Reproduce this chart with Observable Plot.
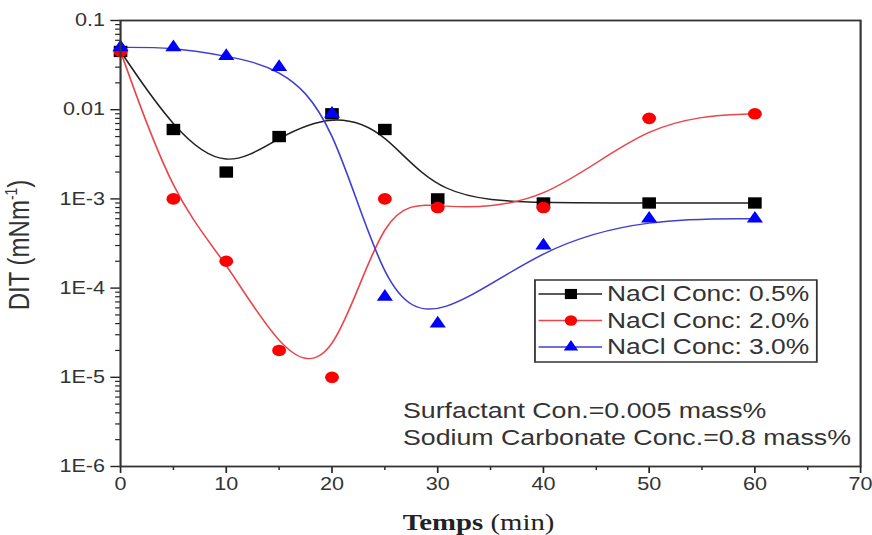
<!DOCTYPE html>
<html><head><meta charset="utf-8">
<script src="https://cdn.jsdelivr.net/npm/d3@7"></script>
<script src="https://cdn.jsdelivr.net/npm/@observablehq/plot@0.6"></script>
<style>body{margin:0;background:#fff;overflow:hidden}</style>
</head><body><div id="chart"></div>
<script>
// ---- data ----
const times = [0, 5, 10, 15, 20, 25, 30, 40, 50, 60];
const seriesNames = ["NaCl Conc: 0.5%", "NaCl Conc: 2.0%", "NaCl Conc: 3.0%"];
const dit05 = [0.045, 0.006, 0.002, 0.005, 0.009, 0.006, 0.001, 0.0009, 0.0009, 0.0009];
const dit20 = [0.045, 0.001, 0.0002, 0.00002, 0.00001, 0.001, 0.0008, 0.0008, 0.008, 0.009];
const dit30 = [0.05, 0.05, 0.04, 0.03, 0.009, 0.00008, 0.00004, 0.0003, 0.0006, 0.0006];
const xTickValues = [0, 10, 20, 30, 40, 50, 60, 70];
const xMinorValues = [5, 15, 25, 35, 45, 55, 65];
const yTickValues = [1e-6, 1e-5, 1e-4, 1e-3, 0.01, 0.1];
const yTickLabels = ["1E-6", "1E-5", "1E-4", "1E-3", "0.01", "0.1"];
const annotations = ["Surfactant Con.=0.005 mass%", "Sodium Carbonate Conc.=0.8 mass%"];
const yLabelMain = "DIT (mNm";
const yLabelSup = "-1";
const xLabelBold = "Temps";
const xLabelRest = " (min)";

// ---- styles ----
const lineColors = ["#222222", "#e8464a", "#4040d0"];
const dotColors = ["#000000", "#ff0000", "#0000ff"];
const symbols = ["square", "circle", "triangle"];
const radii = [6.4, 5.8, 5.0];

const allValues = [dit05, dit20, dit30];
const rows = seriesNames.flatMap((s, k) => times.map((t, i) => ({series: s, k, t, v: allValues[k][i]})));

const yMinor = [];
for (let e = -6; e < -1; e++) for (let m = 2; m <= 9; m++) yMinor.push(m * Math.pow(10, e));

const W = 727, H = 535, SW = 872;

const lineMarks = seriesNames.map((s, k) => Plot.line(rows.filter(d => d.k === k), {
  x: "t", y: "v", curve: "basis", stroke: lineColors[k], strokeWidth: 1.4
}));
const dotMarks = seriesNames.map((s, k) => Plot.dot(rows.filter(d => d.k === k), {
  x: "t", y: "v", symbol: symbols[k], r: radii[k], fill: dotColors[k], stroke: "none"
}));

const svg = Plot.plot({
  width: W, height: H,
  marginLeft: 100, marginRight: 10, marginTop: 20, marginBottom: 69,
  style: {fontFamily: "'Liberation Sans', Arial, sans-serif", color: "#333", background: "#fff"},
  x: {domain: [0, 70], label: null},
  y: {type: "log", domain: [1e-6, 0.1], label: null},
  marks: [
    Plot.axisY(yMinor, {tickSize: 4, tickFormat: () => "", label: null, stroke: "#222", strokeWidth: 1.2}),
    Plot.axisY(yTickValues, {tickSize: 8, tickPadding: 5, tickFormat: d => yTickLabels[yTickValues.indexOf(d)], fontSize: 18, label: null, stroke: "#222", strokeWidth: 1.4}),
    Plot.axisX(xMinorValues, {tickSize: 4, tickFormat: () => "", label: null, stroke: "#222", strokeWidth: 1.2}),
    Plot.axisX(xTickValues, {tickSize: 7, tickPadding: 4, tickFormat: d => String(d), fontSize: 18, label: null, stroke: "#222", strokeWidth: 1.4}),
    ...lineMarks,
    ...dotMarks,
    Plot.frame({stroke: "#333", strokeWidth: 1.8})
  ]
});

// stretch horizontally like the reference picture
svg.setAttribute("viewBox", `0 0 ${W} ${H}`);
svg.setAttribute("preserveAspectRatio", "none");
svg.setAttribute("width", SW);
svg.setAttribute("height", H);
svg.style.width = SW + "px";
svg.style.height = H + "px";
svg.style.maxWidth = "none";

const g = d3.select(svg).append("g")
  .attr("font-family", "'Liberation Sans', Arial, sans-serif")
  .attr("text-anchor", "start");

// y label
const yl = g.append("text").attr("transform", "translate(24,245) rotate(-90)")
  .attr("text-anchor", "middle").attr("font-size", 24).attr("fill", "#333");
yl.append("tspan").text(yLabelMain);
yl.append("tspan").attr("dy", -10).attr("font-size", 14).text(yLabelSup);
yl.append("tspan").attr("dy", 10).text(")");

// x label
const xl = g.append("text").attr("x", 399).attr("y", 530).attr("text-anchor", "middle")
  .attr("font-family", "'Liberation Serif', 'Times New Roman', serif").attr("font-size", 24).attr("fill", "#222");
xl.append("tspan").attr("font-weight", "bold").text(xLabelBold);
xl.append("tspan").text(xLabelRest);

// annotations
annotations.forEach((t, i) => {
  g.append("text").attr("x", 336).attr("y", 418 + i * 27).attr("text-anchor", "start")
    .attr("font-size", 22.3).attr("fill", "#333").text(t);
});

// legend
const lg = g.append("g");
lg.append("rect").attr("x", 446).attr("y", 280).attr("width", 235).attr("height", 82)
  .attr("fill", "#fff").attr("stroke", "#333").attr("stroke-width", 1.5);
seriesNames.forEach((s, k) => {
  const yy = 294 + k * 26.5;
  lg.append("line").attr("x1", 449).attr("x2", 502).attr("y1", yy).attr("y2", yy)
    .attr("stroke", lineColors[k]).attr("stroke-width", 1.4);
  lg.append("path").attr("transform", `translate(476,${yy})`)
    .attr("d", d3.symbol(symbols[k] === "square" ? d3.symbolSquare : symbols[k] === "circle" ? d3.symbolCircle : d3.symbolTriangle, Math.PI * radii[k] * radii[k] * 0.8)())
    .attr("fill", dotColors[k]);
  lg.append("text").attr("x", 506).attr("y", yy + 7.5).attr("text-anchor", "start")
    .attr("font-size", 22).attr("fill", "#333").text(s);
});

document.getElementById("chart").appendChild(svg);
</script>
</body></html>
